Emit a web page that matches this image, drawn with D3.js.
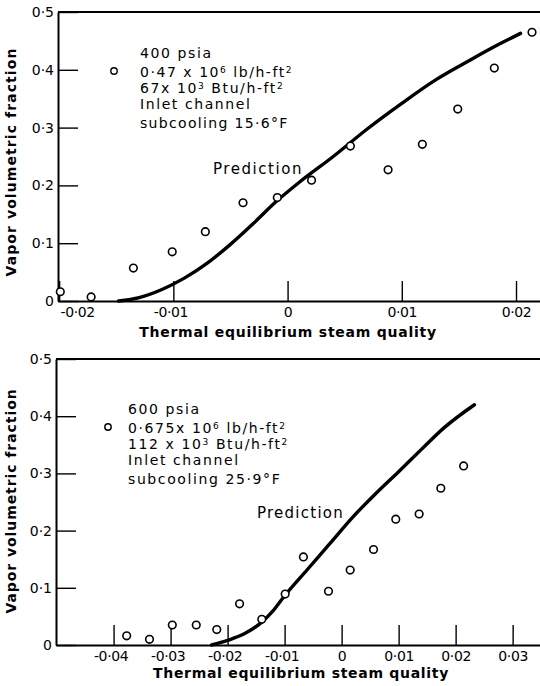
<!DOCTYPE html>
<html>
<head>
<meta charset="utf-8">
<script src="https://cdn.jsdelivr.net/npm/d3@7"></script>
<style>
  html, body { margin: 0; padding: 0; background: #fff; }
  svg { display: block; }
  text { font-family: "DejaVu Sans", "Liberation Sans", sans-serif; fill: #000; }
</style>
</head>
<body>
<svg id="chart" width="540" height="686"></svg>
<script>
// ---------- data ----------
const yTicks = [0, 0.1, 0.2, 0.3, 0.4, 0.5];

// Top panel: 400 psia
const topXTicks = [-0.02, -0.01, 0, 0.01, 0.02];
const topObsX = [-0.0199, -0.0172, -0.0135, -0.0101, -0.0072, -0.0039, -0.0009, 0.0021, 0.0055, 0.0088, 0.0118, 0.0149, 0.0181, 0.0214];
const topObsY = [0.016, 0.007, 0.057, 0.085, 0.120, 0.170, 0.179, 0.209, 0.268, 0.227, 0.271, 0.332, 0.403, 0.465];
const topPredX = [-0.0148, -0.0130, -0.0110, -0.0090, -0.0070, -0.0050, -0.0030, -0.0010, 0.0010, 0.0040, 0.0070, 0.0100, 0.0130, 0.0160, 0.0185, 0.0204];
const topPredY = [0, 0.006, 0.020, 0.040, 0.066, 0.098, 0.134, 0.172, 0.205, 0.250, 0.298, 0.342, 0.383, 0.417, 0.444, 0.463];
const topLegend = [
  [["400 psia"]],
  [["0·47 x 10"], ["6", "sup"], [" lb/h-ft"], ["2", "sup"]],
  [["67x 10"], ["3", "sup"], [" Btu/h-ft"], ["2", "sup"]],
  [["Inlet  channel"]],
  [["subcooling  15·6°F"]]
];

// Bottom panel: 600 psia
const botXTicks = [-0.04, -0.03, -0.02, -0.01, 0, 0.01, 0.02, 0.03];
const botObsX = [-0.0377, -0.0337, -0.0297, -0.0255, -0.0219, -0.0179, -0.0140, -0.0099, -0.0067, -0.0023, 0.0015, 0.0056, 0.0095, 0.0136, 0.0174, 0.0214];
const botObsY = [0.016, 0.010, 0.035, 0.035, 0.027, 0.072, 0.045, 0.089, 0.154, 0.094, 0.131, 0.167, 0.220, 0.229, 0.274, 0.313];
const botPredX = [-0.0228, -0.0200, -0.0170, -0.0140, -0.0120, -0.0100, -0.0060, -0.0020, 0.0020, 0.0060, 0.0100, 0.0140, 0.0180, 0.0233];
const botPredY = [0, 0.008, 0.020, 0.040, 0.060, 0.086, 0.132, 0.178, 0.224, 0.265, 0.303, 0.342, 0.380, 0.420];
const botLegend = [
  [["600 psia"]],
  [["0·675x 10"], ["6", "sup"], [" lb/h-ft"], ["2", "sup"]],
  [["112 x 10"], ["3", "sup"], [" Btu/h-ft"], ["2", "sup"]],
  [["Inlet  channel"]],
  [["subcooling  25·9°F"]]
];

const yTitle = "Vapor  volumetric  fraction";
const xTitle = "Thermal  equilibrium  steam  quality";
const predLabel = "Prediction";

// ---------- drawing ----------
const svg = d3.select("#chart");
const fmt = v => {
  if (Math.abs(v) < 1e-9) return "0";
  const isTenth = Math.abs(v * 10 - Math.round(v * 10)) < 1e-9;
  const s = d3.format(isTenth ? ".1f" : ".2f")(Math.abs(v));
  return (v < 0 ? "-" : "") + s.replace(".", "·");
};

// stretch a text to a target width through letter-spacing
function fitWidth(sel, target, maxLs) {
  const node = sel.node();
  sel.attr("letter-spacing", 0);
  const w = node.getComputedTextLength();
  const n = node.textContent.length;
  let ls = (target - w) / n;
  if (maxLs !== undefined) ls = Math.min(ls, maxLs);
  sel.attr("letter-spacing", ls.toFixed(2));
}

function panel(cfg) {
  const g = svg.append("g");
  const x = d3.scaleLinear().domain(cfg.xDomain).range([cfg.left, 540]);
  const y = d3.scaleLinear().domain([0, 0.5]).range([cfg.bottom, cfg.top]);

  // top border
  g.append("line")
    .attr("x1", cfg.left).attr("x2", 540)
    .attr("y1", y(0.5)).attr("y2", y(0.5))
    .attr("stroke", "#000").attr("stroke-width", 2);

  // y axis
  const ya = g.append("g").attr("transform", `translate(${cfg.left},0)`)
    .call(d3.axisLeft(y).tickValues(yTicks).tickSizeInner(-20).tickSizeOuter(0).tickPadding(4).tickFormat(fmt));
  ya.select(".domain").attr("stroke-width", 2);
  ya.selectAll(".tick line").attr("stroke-width", 1.4);
  ya.selectAll(".tick text").attr("font-size", 14).attr("font-family", "DejaVu Sans");

  // x axis
  const xa = g.append("g").attr("transform", `translate(0,${cfg.bottom})`)
    .call(d3.axisBottom(x).tickValues(cfg.xTicks).tickSizeInner(-20).tickSizeOuter(0).tickPadding(6).tickFormat(fmt));
  xa.select(".domain").attr("stroke-width", 2);
  xa.selectAll(".tick line").attr("stroke-width", 1.4);
  xa.selectAll(".tick text").attr("font-size", 14).attr("font-family", "DejaVu Sans")
    .attr("letter-spacing", -0.4)
    .attr("dx", d => d < 0 ? (Math.abs(d - cfg.xDomain[0]) < 0.001 ? 18 : -3) : 0);

  // axis titles
  const yt = g.append("text")
    .attr("transform", `translate(${cfg.yTitleX},${cfg.yTitleY}) rotate(-90)`)
    .attr("text-anchor", "middle").attr("font-size", 14).attr("font-weight", "bold")
    .text(yTitle);
  fitWidth(yt, cfg.yTitleW);
  const xt = g.append("text")
    .attr("x", cfg.xTitleX).attr("y", cfg.xTitleY)
    .attr("text-anchor", "middle").attr("font-size", 14).attr("font-weight", "bold")
    .text(xTitle);
  fitWidth(xt, cfg.xTitleW);

  // prediction curve
  const line = d3.line().x(d => x(d[0])).y(d => y(d[1])).curve(d3.curveMonotoneX);
  g.append("path")
    .datum(d3.zip(cfg.predX, cfg.predY))
    .attr("d", line)
    .attr("fill", "none").attr("stroke", "#000").attr("stroke-width", 3.4)
    .attr("stroke-linecap", "round");

  // observations
  g.selectAll("circle.obs")
    .data(d3.zip(cfg.obsX, cfg.obsY))
    .join("circle").attr("class", "obs")
    .attr("cx", d => x(d[0])).attr("cy", d => y(d[1])).attr("r", 3.8)
    .attr("fill", "#fff").attr("stroke", "#000").attr("stroke-width", 1.6);

  // prediction label
  const pl = g.append("text")
    .attr("x", cfg.predLabelX).attr("y", cfg.predLabelY)
    .attr("font-size", 15)
    .text(predLabel);
  fitWidth(pl, cfg.predLabelW);

  // legend block
  const offs = [0, 18.5, 34.5, 50.5, 69.5];
  cfg.legend.forEach((parts, i) => {
    const t = g.append("text")
      .attr("x", cfg.legendX).attr("y", cfg.legendY + offs[i])
      .attr("font-size", 14);
    parts.forEach(p => {
      if (p[1] === "sup") {
        t.append("tspan").attr("font-size", 9).attr("baseline-shift", "40%").text(p[0]);
      } else {
        t.append("tspan").text(p[0]);
      }
    });
    fitWidth(t, cfg.legendW[i], 1.6);
  });
  g.append("circle")
    .attr("cx", cfg.legendMarkX).attr("cy", cfg.legendMarkY).attr("r", 3.2)
    .attr("fill", "#fff").attr("stroke", "#000").attr("stroke-width", 1.4);
}

panel({
  left: 58, top: 12, bottom: 301,
  xDomain: [-0.0201, 0.0221], xTicks: topXTicks,
  obsX: topObsX, obsY: topObsY, predX: topPredX, predY: topPredY,
  legend: topLegend, legendX: 140, legendY: 58, legendW: [92, 153, 153, 113, 150],
  legendMarkX: 114, legendMarkY: 71,
  predLabelX: 213, predLabelY: 174, predLabelW: 90,
  yTitleX: 16, yTitleY: 162, yTitleW: 231, xTitleX: 288, xTitleY: 337, xTitleW: 300
});

panel({
  left: 56, top: 359, bottom: 645,
  xDomain: [-0.0501, 0.0348], xTicks: botXTicks,
  obsX: botObsX, obsY: botObsY, predX: botPredX, predY: botPredY,
  legend: botLegend, legendX: 128, legendY: 414, legendW: [85, 162, 162, 118, 161],
  legendMarkX: 108, legendMarkY: 427,
  predLabelX: 257, predLabelY: 518, predLabelW: 87,
  yTitleX: 16, yTitleY: 501, yTitleW: 227, xTitleX: 301, xTitleY: 678, xTitleW: 298
});
</script>
</body>
</html>
